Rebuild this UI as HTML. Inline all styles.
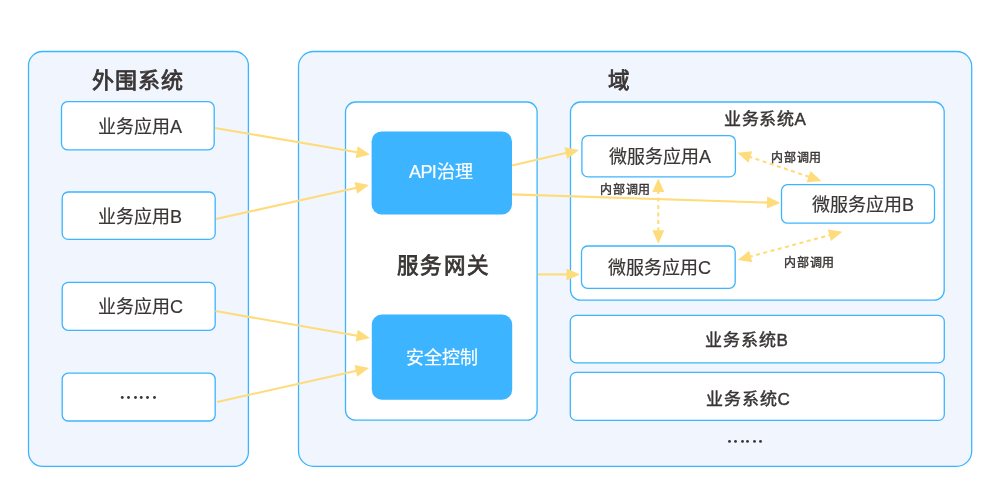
<!DOCTYPE html>
<html lang="zh-CN"><head><meta charset="utf-8">
<style>
html,body{margin:0;padding:0;background:#fff;width:1000px;height:497px;overflow:hidden}
body{position:relative;font-family:"Liberation Sans",sans-serif;color:#3a3636}
svg{position:absolute;left:0;top:0}
.t{position:absolute;white-space:nowrap;line-height:1;will-change:transform}
line{stroke:#fedc7c;stroke-width:2.1}
line.d{stroke-dasharray:4 3.5}
</style></head><body>
<svg width="1000" height="497" viewBox="0 0 1000 497">
<rect x="28.5" y="51.5" width="219.90" height="414.80" rx="14"  fill="#f0f5fe" stroke="#3db5fe" stroke-width="1.3"/>
<rect x="298.5" y="51.5" width="673.20" height="414.80" rx="15"  fill="#f0f5fe" stroke="#3db5fe" stroke-width="1.3"/>
<rect x="61.5" y="101.7" width="152.70" height="48.10" rx="6"  fill="#fff" stroke="#3db5fe" stroke-width="1.3"/>
<rect x="62.2" y="192" width="153.00" height="47.40" rx="6"  fill="#fff" stroke="#3db5fe" stroke-width="1.3"/>
<rect x="62.2" y="282.4" width="153.00" height="47.90" rx="6"  fill="#fff" stroke="#3db5fe" stroke-width="1.3"/>
<rect x="62.2" y="373.2" width="153.00" height="47.80" rx="6"  fill="#fff" stroke="#3db5fe" stroke-width="1.3"/>
<rect x="345.5" y="102" width="191.60" height="318.20" rx="10"  fill="#fff" stroke="#3db5fe" stroke-width="1.3"/>
<rect x="570.5" y="102" width="373.70" height="198.10" rx="10"  fill="#fff" stroke="#3db5fe" stroke-width="1.3"/>
<rect x="581.9" y="135.7" width="153.50" height="41.20" rx="6"  fill="#fff" stroke="#3db5fe" stroke-width="1.3"/>
<rect x="781.5" y="184.7" width="153.00" height="38.50" rx="6"  fill="#fff" stroke="#3db5fe" stroke-width="1.3"/>
<rect x="581.5" y="246" width="153.70" height="42.30" rx="6"  fill="#fff" stroke="#3db5fe" stroke-width="1.3"/>
<rect x="570.3" y="315.4" width="374.00" height="47.50" rx="6"  fill="#fff" stroke="#3db5fe" stroke-width="1.3"/>
<rect x="570.3" y="372.4" width="374.00" height="48.00" rx="6"  fill="#fff" stroke="#3db5fe" stroke-width="1.3"/>
<rect x="371.6" y="131.4" width="140.40" height="83.10" rx="10"  fill="#3cb4ff"/>
<rect x="371.8" y="314.6" width="140.40" height="85.10" rx="10"  fill="#3cb4ff"/>
<circle cx="122.25" cy="397.5" r="1.45" fill="#3a3636"/>
<circle cx="128.5" cy="397.5" r="1.45" fill="#3a3636"/>
<circle cx="135.5" cy="397.5" r="1.45" fill="#3a3636"/>
<circle cx="141.25" cy="397.5" r="1.45" fill="#3a3636"/>
<circle cx="147.5" cy="397.5" r="1.45" fill="#3a3636"/>
<circle cx="154.5" cy="397.5" r="1.45" fill="#3a3636"/>
<circle cx="729.5" cy="441.4" r="1.45" fill="#3a3636"/>
<circle cx="735.5" cy="441.4" r="1.45" fill="#3a3636"/>
<circle cx="742.5" cy="441.4" r="1.45" fill="#3a3636"/>
<circle cx="747.5" cy="441.4" r="1.45" fill="#3a3636"/>
<circle cx="754.5" cy="441.4" r="1.45" fill="#3a3636"/>
<circle cx="760.5" cy="441.4" r="1.45" fill="#3a3636"/>
<line x1="215" y1="128" x2="358.66" y2="152.56"/>
<path d="M370.00,154.50 L355.68,158.14 L357.70,146.31 Z" fill="#fedc7c"/>
<line x1="216" y1="219" x2="357.77" y2="187.49"/>
<path d="M369.00,185.00 L357.12,193.79 L354.52,182.07 Z" fill="#fedc7c"/>
<line x1="215.5" y1="311" x2="358.67" y2="336.02"/>
<path d="M370.00,338.00 L355.67,341.59 L357.73,329.77 Z" fill="#fedc7c"/>
<line x1="217" y1="402" x2="357.78" y2="370.51"/>
<path d="M369.00,368.00 L357.14,376.80 L354.52,365.09 Z" fill="#fedc7c"/>
<line x1="512" y1="165.5" x2="567.80" y2="152.59"/>
<path d="M579.00,150.00 L567.20,158.89 L564.50,147.20 Z" fill="#fedc7c"/>
<line x1="512" y1="194.4" x2="769.01" y2="202.63"/>
<path d="M780.50,203.00 L766.81,208.56 L767.20,196.57 Z" fill="#fedc7c"/>
<line x1="538" y1="274.4" x2="568.50" y2="274.40"/>
<path d="M580.00,274.40 L566.50,280.40 L566.50,268.40 Z" fill="#fedc7c"/>
<line class="d" x1="748.40" y1="156.38" x2="810.50" y2="177.32"/>
<path d="M821.40,181.00 L806.69,182.37 L810.53,171.00 Z" fill="#fedc7c"/>
<path d="M737.50,152.70 L752.21,151.33 L748.37,162.70 Z" fill="#fedc7c"/>
<line class="d" x1="658.30" y1="190.00" x2="658.30" y2="232.30"/>
<path d="M658.30,243.80 L652.30,230.30 L664.30,230.30 Z" fill="#fedc7c"/>
<path d="M658.30,178.50 L664.30,192.00 L652.30,192.00 Z" fill="#fedc7c"/>
<line class="d" x1="748.80" y1="257.00" x2="831.30" y2="234.70"/>
<path d="M842.40,231.70 L830.93,241.01 L827.80,229.43 Z" fill="#fedc7c"/>
<path d="M737.70,260.00 L749.17,250.69 L752.30,262.27 Z" fill="#fedc7c"/>
</svg>
<div class="t" style="left:92px;top:70px;font-size:22px;-webkit-text-stroke:0.8px #3a3636;letter-spacing:1px">外围系统</div>
<div class="t" style="left:98px;top:117.5px;font-size:18px;-webkit-text-stroke:0.2px #3a3636">业务应用A</div>
<div class="t" style="left:98px;top:207.5px;font-size:18px;-webkit-text-stroke:0.2px #3a3636">业务应用B</div>
<div class="t" style="left:98px;top:298px;font-size:18px;-webkit-text-stroke:0.2px #3a3636">业务应用C</div>
<div class="t" style="left:607.5px;top:71px;font-size:21.5px;-webkit-text-stroke:0.8px #3a3636">域</div>
<div class="t" style="left:409px;top:163px;font-size:18px;color:#fff;-webkit-text-stroke:0.2px #fff"><span style='letter-spacing:-0.6px'>AP</span>I治理</div>
<div class="t" style="left:397px;top:256px;font-size:21.5px;-webkit-text-stroke:0.8px #3a3636;letter-spacing:1.3px">服务网关</div>
<div class="t" style="left:406px;top:349px;font-size:18px;color:#fff;-webkit-text-stroke:0.2px #fff">安全控制</div>
<div class="t" style="left:723.5px;top:110.5px;font-size:17px;-webkit-text-stroke:0.45px #3a3636;letter-spacing:0.6px">业务系统A</div>
<div class="t" style="left:609px;top:148px;font-size:18px;-webkit-text-stroke:0.2px #3a3636">微服务应用A</div>
<div class="t" style="left:812px;top:196px;font-size:18px;-webkit-text-stroke:0.2px #3a3636">微服务应用B</div>
<div class="t" style="left:608px;top:259px;font-size:18px;-webkit-text-stroke:0.2px #3a3636">微服务应用C</div>
<div class="t" style="left:770.5px;top:151.5px;font-size:12px;-webkit-text-stroke:0.4px #3a3636;letter-spacing:0.75px">内部调用</div>
<div class="t" style="left:599.5px;top:184px;font-size:12px;-webkit-text-stroke:0.4px #3a3636;letter-spacing:0.75px">内部调用</div>
<div class="t" style="left:783.5px;top:256.5px;font-size:12px;-webkit-text-stroke:0.4px #3a3636;letter-spacing:0.75px">内部调用</div>
<div class="t" style="left:705px;top:331.5px;font-size:17px;-webkit-text-stroke:0.45px #3a3636;letter-spacing:0.9px">业务系统B</div>
<div class="t" style="left:705.5px;top:391px;font-size:17px;-webkit-text-stroke:0.45px #3a3636;letter-spacing:0.9px">业务系统C</div>
</body></html>
